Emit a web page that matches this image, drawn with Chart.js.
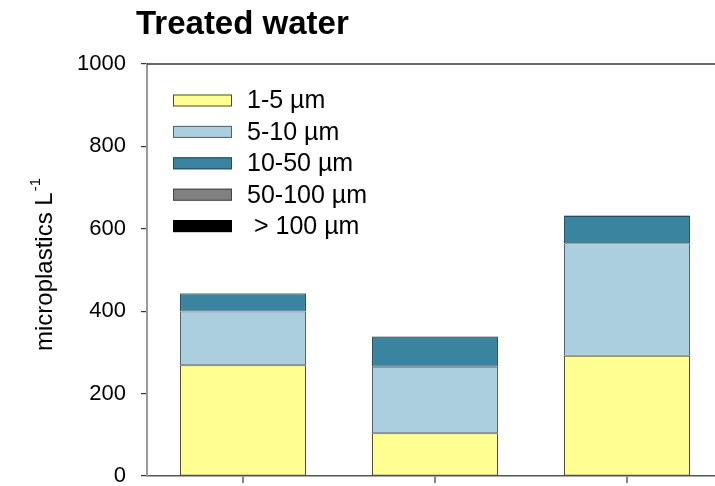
<!DOCTYPE html>
<html>
<head>
<meta charset="utf-8">
<script src="https://cdn.jsdelivr.net/npm/chart.js@4/dist/chart.umd.min.js"></script>
<style>
  html, body { margin: 0; padding: 0; background: #fff; }
  #wrap { width: 715px; height: 486px; overflow: hidden; position: relative; }
  canvas { display: block; }
</style>
</head>
<body>
<div id="wrap"><canvas id="c" width="740" height="486"></canvas></div>
<script>
// Treated water samples (stacked by particle size class)
const categories = ['1', '2', '3'];
const sizeClasses = ['1-5 µm', '5-10 µm', '10-50 µm', '50-100 µm', '> 100 µm'];
const size1to5 = [269, 104, 292];
const size5to10 = [130, 161, 273];
const size10to50 = [44, 73, 66];
const size50to100 = [1, 1, 1];
const sizeOver100 = [0, 0, 1];
const yTicks = [0, 200, 400, 600, 800, 1000];

const fills = ['#FFFF91', '#ABCFDF', '#3A84A0', '#808080', '#000000'];
const edges = ['#4a4a3a', '#55606a', '#244e60', '#444444', '#000000'];
const series = [size1to5, size5to10, size10to50, size50to100, sizeOver100];

const FONT = '"Liberation Sans", Arial, Helvetica, sans-serif';

const decorations = {
  id: 'decorations',
  afterDatasetsDraw(chart) {
    const ctx = chart.ctx;
    const area = chart.chartArea;
    const y = chart.scales.y;
    ctx.save();
    // top frame line at the maximum
    ctx.strokeStyle = '#333';
    ctx.lineWidth = 1.5;
    ctx.beginPath();
    ctx.moveTo(area.left, y.getPixelForValue(1000));
    ctx.lineTo(area.right, y.getPixelForValue(1000));
    ctx.stroke();

    // legend inside the plot
    ctx.font = '25px ' + FONT;
    ctx.textBaseline = 'middle';
    ctx.textAlign = 'left';
    chart.data.datasets.forEach((ds, i) => {
      const bx = 173, by = 94.5 + i * 31.4, bw = 59, bh = 12;
      ctx.fillStyle = ds.backgroundColor;
      ctx.fillRect(bx, by, bw, bh);
      ctx.strokeStyle = ds.borderColor;
      ctx.lineWidth = 1;
      ctx.strokeRect(bx + 0.5, by + 0.5, bw - 1, bh - 1);
      ctx.fillStyle = '#000';
      const lbl = ds.label.startsWith('>') ? ' ' + ds.label : ds.label;
      ctx.fillText(lbl, 247, by + bh / 2 + 1);
    });

    // title
    ctx.font = 'bold 33px ' + FONT;
    ctx.textBaseline = 'alphabetic';
    ctx.fillText('Treated water', 136, 34);

    // y axis title with superscript
    ctx.translate(52, 265);
    ctx.rotate(-Math.PI / 2);
    ctx.font = '24px ' + FONT;
    const main = 'microplastics L';
    const w1 = ctx.measureText(main).width;
    ctx.font = '15px ' + FONT;
    const sup = '-1';
    const w2 = ctx.measureText(sup).width;
    const start = -(w1 + w2) / 2;
    ctx.font = '24px ' + FONT;
    ctx.fillText(main, start, 0);
    ctx.font = '15px ' + FONT;
    ctx.fillText(sup, start + w1 + 1, -12);
    ctx.restore();
  }
};

new Chart(document.getElementById('c'), {
  type: 'bar',
  data: {
    labels: categories,
    datasets: series.map((vals, i) => ({
      label: sizeClasses[i],
      data: vals,
      backgroundColor: fills[i],
      borderColor: edges[i],
      borderWidth: 1,
      borderSkipped: false,
      categoryPercentage: 1,
      barPercentage: 0.656
    }))
  },
  options: {
    responsive: false,
    animation: false,
    layout: { padding: { top: 64, right: 17, left: 0, bottom: 0 } },
    plugins: { legend: { display: false }, tooltip: { enabled: false }, title: { display: false } },
    scales: {
      x: {
        stacked: true,
        offset: true,
        ticks: { display: false },
        grid: { offset: false, drawOnChartArea: false, drawTicks: true, tickLength: 7, color: '#888', lineWidth: 2 },
        border: { color: '#555', width: 1.5 },
        afterFit(scale) { scale.height = 10; scale.paddingLeft = 0; scale.paddingRight = 0; }
      },
      y: {
        stacked: true,
        min: 0,
        max: 1000,
        afterBuildTicks(scale) { scale.ticks = yTicks.map(v => ({ value: v })); },
        ticks: { color: '#000', padding: 15, font: { family: FONT, size: 22 }, callback: v => String(v) },
        grid: { drawOnChartArea: false, drawTicks: true, tickLength: 6, color: '#333', lineWidth: 1.2 },
        border: { color: '#999', width: 2 },
        afterFit(scale) { scale.width = 147; scale.paddingTop = 0; scale.paddingBottom = 0; }
      }
    }
  },
  plugins: [decorations]
});
</script>
</body>
</html>
